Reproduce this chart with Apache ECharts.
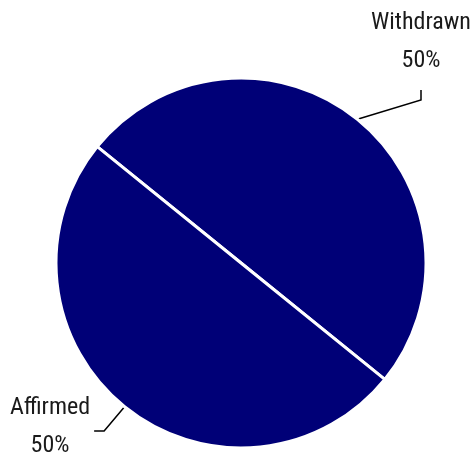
<!DOCTYPE html>
<html>
<head>
<meta charset="utf-8">
<script src="https://cdn.jsdelivr.net/npm/echarts@6/dist/echarts.min.js"></script>
<style>
  html, body { margin: 0; padding: 0; background: #fff; }
  #main { width: 476px; height: 456px; }
</style>
</head>
<body>
<div id="main"></div>
<script>
// 数据
var names = ["Withdrawn", "Affirmed"];
var counts = [1, 1];
// 标签位置 (x, y top)
var labelPos = [[421, 2], [50, 387]];

var myChart = echarts.init(document.getElementById("main"));
var option = {
  animation: false,
  series: [
    {
      type: "pie",
      center: [241, 263],
      radius: 185,
      startAngle: 141,
      clockwise: true,
      avoidLabelOverlap: false,
      itemStyle: {
        color: "#000077",
        borderColor: "#ffffff",
        borderWidth: 3
      },
      label: {
        show: true,
        position: "outside",
        formatter: "{b}\n{d}%",
        fontFamily: "Roboto Condensed, Liberation Sans, sans-serif",
        fontSize: 24,
        lineHeight: 38,
        color: "#1a1a1a",
        padding: [2, 4, 10, 4]
      },
      labelLine: {
        show: true,
        length: 20,
        length2: 10,
        smooth: false,
        lineStyle: { color: "#000000", width: 1.5 }
      },
      labelLayout: function (params) {
        var p = labelPos[params.dataIndex];
        return { x: p[0], y: p[1], align: "center", verticalAlign: "top" };
      },
      data: names.map(function (n, i) {
        return { name: n, value: counts[i] };
      })
    }
  ]
};
myChart.setOption(option);
</script>
</body>
</html>
